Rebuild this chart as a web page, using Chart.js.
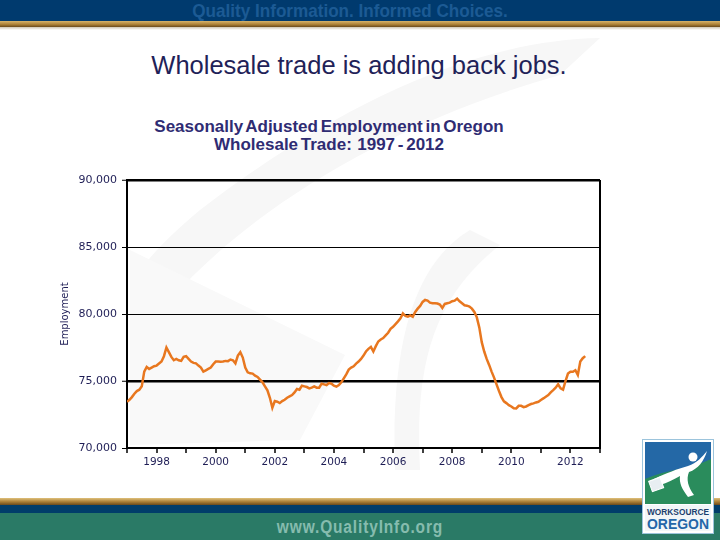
<!DOCTYPE html>
<html>
<head>
<meta charset="utf-8">
<script src="https://cdn.jsdelivr.net/npm/chart.js@4.4.0/dist/chart.umd.min.js"></script>
<style>
  html, body { margin: 0; padding: 0; }
  body { width: 720px; height: 540px; position: relative; overflow: hidden; background: #fff; font-family: "Liberation Sans", Arial, sans-serif; }
  .abs { position: absolute; }
  #topbar { left: 0; top: 0; width: 720px; height: 21px; background: #003a6e; }
  #topgold { left: 0; top: 21px; width: 720px; height: 6px; background: linear-gradient(#d8b46a, #a87d34 60%, #6a4a1c); }
  #topshadow { left: 0; top: 27px; width: 720px; height: 3px; background: linear-gradient(#cfc6b4, #fff); }
  #tagline { left: 0; top: 0; width: 700px; text-align: center; font: bold 19px "Liberation Sans", sans-serif; color: #1c5a94; line-height: 21px; transform: scaleX(0.9); }
  #slideTitle { left: 0; top: 51px; width: 718px; text-align: center; font-size: 25.5px; line-height: 28px; color: #1f2258; }
  #chartTitle { left: 0; top: 118px; width: 658px; text-align: center; font-weight: bold; font-size: 17px; line-height: 18px; color: #2f2c73; word-spacing: -2px; }
  #botgold { left: 0; top: 498px; width: 720px; height: 7px; background: linear-gradient(#e0c07a, #a87d34 55%, #6a4a1c); }
  #botnavy { left: 0; top: 505px; width: 720px; height: 8px; background: #003d6a; }
  #botteal { left: 0; top: 513px; width: 720px; height: 27px; background: #2a7a66; }
  #url { left: 0; top: 516px; width: 720px; text-align: center; font: bold 18px "Liberation Sans", sans-serif; letter-spacing: 1px; color: #86bcae; line-height: 22px; transform: scaleX(0.86); }
  #chart { left: 0; top: 0; z-index: 2; }
  #bg { left: 0; top: 0; z-index: 0; }
  #logo { left: 642px; top: 439px; z-index: 3; }
</style>
</head>
<body>
<svg id="bg" class="abs" width="720" height="540">
  <path d="M600 38 C 470 40, 330 110, 200 210 C 170 235, 145 260, 130 285 L 170 300 C 260 200, 400 120, 560 75 Z" fill="#f7f7f7"/>
  <path d="M130 250 L 345 355 L 300 440 L 130 445 Z" fill="#f9f9f9"/>
  <path d="M470 230 C 420 260, 390 330, 395 470 L 420 470 C 415 370, 430 300, 500 245 Z" fill="#f7f7f7"/>
</svg>
<div id="topbar" class="abs"><div id="tagline" class="abs">Quality Information. Informed Choices.</div></div>
<div id="topgold" class="abs"></div>
<div id="topshadow" class="abs"></div>
<div id="slideTitle" class="abs">Wholesale trade is adding back jobs.</div>
<div id="chartTitle" class="abs">Seasonally Adjusted Employment in Oregon<br>Wholesale Trade:&nbsp; 1997 - 2012</div>
<div id="botgold" class="abs"></div>
<div id="botnavy" class="abs"></div>
<div id="botteal" class="abs"></div>
<div id="url" class="abs">www.QualityInfo.org</div>
<svg id="logo" class="abs" width="72" height="95">
  <rect x="0.5" y="0.5" width="71" height="94" fill="#fff" stroke="#9cc4dc"/>
  <rect x="3" y="3" width="66" height="62" fill="#2468a6"/>
  <path d="M3 40 C 25 30, 50 30, 69 20 L 69 65 L 3 65 Z" fill="#2a8c5c"/>
  <circle cx="51" cy="18" r="4.5" fill="#fff"/>
  <path d="M12 40 C 25 34, 35 30, 46 27 C 55 24, 60 18, 65 12 C 62 22, 56 30, 47 33 C 44 40, 46 48, 52 56 L 46 58 C 40 50, 37 44, 38 37 C 32 40, 25 44, 18 46 Z" fill="#fff"/>
  <rect x="8" y="40" width="12" height="11" fill="#e8eef2" stroke="#fff" transform="rotate(-20 14 45)"/>
  <rect x="3" y="66" width="66" height="26" fill="#f2f6f8"/>
  <text x="36" y="76" text-anchor="middle" font-family="Liberation Sans, sans-serif" font-weight="bold" font-size="8.5" textLength="62" lengthAdjust="spacingAndGlyphs" fill="#1c3f6e">WORKSOURCE</text>
  <text x="36" y="90" text-anchor="middle" font-family="Liberation Sans, sans-serif" font-weight="bold" font-size="15" textLength="62" lengthAdjust="spacingAndGlyphs" fill="#2466a8">OREGON</text>
</svg>
<canvas id="chart" class="abs" width="720" height="540"></canvas>
<script>
// monthly, seasonally adjusted, starting Jan 1997
const startYear = 1997;
const employment = [
  // 1997
  73450, 73600, 73800, 74050, 74250, 74350, 74600, 75700, 76050, 75900, 76000, 76100,
  // 1998
  76150, 76300, 76450, 76850, 77500, 77150, 76800, 76550, 76650, 76550, 76500, 76800,
  // 1999
  76850, 76650, 76450, 76350, 76320, 76150, 76000, 75700, 75800, 75900, 76000, 76250,
  // 2000
  76450, 76450, 76440, 76450, 76500, 76480, 76600, 76550, 76320, 76900, 77150, 76750,
  // 2001
  76000, 75650, 75570, 75550, 75400, 75300, 75100, 74900, 74600, 74300, 73750, 73000,
  // 2002
  73500, 73450, 73350, 73500, 73600, 73750, 73850, 73950, 74150, 74400, 74350, 74650,
  // 2003
  74600, 74550, 74450, 74500, 74600, 74500, 74500, 74800, 74750, 74700, 74850, 74800,
  // 2004
  74650, 74575, 74700, 74900, 75200, 75500, 75850, 76000, 76100, 76300, 76450, 76650,
  // 2005
  76900, 77200, 77400, 77550, 77200, 77600, 77950, 78100, 78200, 78400, 78600, 78900,
  // 2006
  79050, 79250, 79450, 79680, 80050, 79850, 79800, 79900, 79800, 80150, 80400, 80600,
  // 2007
  80900, 81050, 81000, 80850, 80800, 80800, 80780, 80700, 80450, 80750, 80800, 80850,
  // 2008
  80950, 81000, 81150, 80950, 80800, 80650, 80620, 80550, 80400, 80150, 79750, 79000,
  // 2009
  77900, 77200, 76650, 76200, 75700, 75250, 74750, 74250, 73800, 73480, 73350, 73200,
  // 2010
  73100, 72960, 72950, 73150, 73150, 73050, 73100, 73200, 73280, 73330, 73400, 73450,
  // 2011
  73580, 73700, 73830, 73950, 74150, 74320, 74500, 74750, 74450, 74350, 75000, 75550,
  // 2012
  75690, 75690, 75800, 75450, 76450, 76700, 76860
];

const yTicks = [70000, 75000, 80000, 85000, 90000];
const yearLabels = [1998, 2000, 2002, 2004, 2006, 2008, 2010, 2012];
const boldLines = [75000, 90000];

const tickColor = '#1e1d55';

const points = employment.map((v, i) => ({ x: startYear + i / 12, y: v }));

new Chart(document.getElementById('chart'), {
  type: 'line',
  data: {
    datasets: [{
      data: points,
      borderColor: '#e8771f',
      borderWidth: 2.5,
      pointRadius: 0,
      tension: 0,
      fill: false
    }]
  },
  options: {
    responsive: false,
    animation: false,
    layout: { padding: { left: 55, top: 180, right: 120, bottom: 62 } },
    plugins: { legend: { display: false }, tooltip: { enabled: false } },
    scales: {
      x: {
        type: 'linear',
        min: 1997,
        max: 2013,
        afterFit: s => { s.height = 30; },
        ticks: {
          stepSize: 1,
          autoSkip: false,
          maxRotation: 0,
          padding: 3,
          color: tickColor,
          font: { family: 'DejaVu Sans', size: 10.5 },
          callback: v => yearLabels.includes(v) ? String(v) : ''
        },
        grid: {
          color: ctx => (ctx.tick && ctx.tick.value === 2013) ? '#000' : 'rgba(0,0,0,0)',
          lineWidth: 2,
          tickColor: '#000',
          tickWidth: 1.5,
          tickLength: 5
        },
        border: { color: '#000', width: 2 }
      },
      y: {
        min: 70000,
        max: 90000,
        afterFit: s => { s.width = 72; },
        afterBuildTicks: s => { s.ticks = yTicks.map(v => ({ value: v })); },
        ticks: {
          padding: 5,
          color: tickColor,
          font: { family: 'DejaVu Sans', size: 11 },
          callback: v => v.toLocaleString('en-US')
        },
        grid: {
          color: '#000',
          lineWidth: ctx => (ctx.tick && boldLines.includes(ctx.tick.value)) ? 2.5 : 1,
          tickColor: '#000',
          tickWidth: 1,
          tickLength: 5
        },
        border: { color: '#000', width: 2 },
        title: {
          display: true,
          text: 'Employment',
          color: tickColor,
          font: { family: 'DejaVu Sans', size: 10 },
          padding: { top: 4, bottom: 0 }
        }
      }
    }
  }
});
</script>
</body>
</html>
